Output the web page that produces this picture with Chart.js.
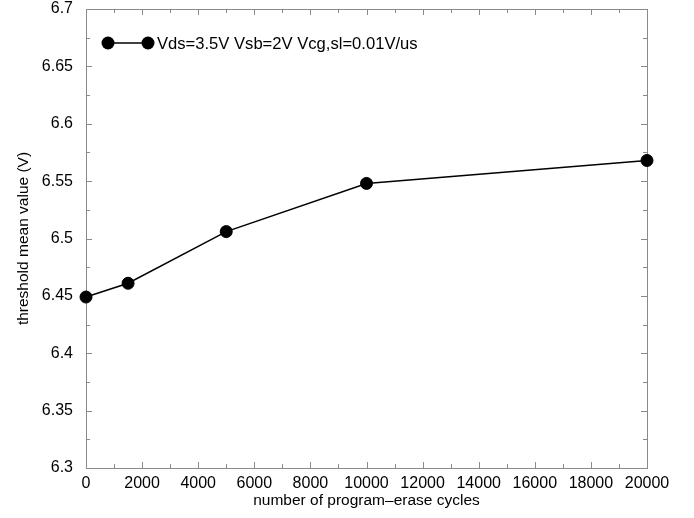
<!DOCTYPE html>
<html lang="en">
<head>
<meta charset="UTF-8">
<title>Threshold mean value vs program-erase cycles</title>
<script src="https://cdn.jsdelivr.net/npm/chart.js"></script>
<style>
  html, body { margin: 0; padding: 0; background: #ffffff; }
  #wrap { width: 694px; height: 518px; }
</style>
</head>
<body>
<div id="wrap"><canvas id="chart" width="694" height="518"></canvas></div>
<script>
// data
const cycles = [0, 1500, 5000, 10000, 20000];
const thresholdMean = [6.449, 6.461, 6.506, 6.548, 6.568];
const seriesLabel = 'Vds=3.5V Vsb=2V Vcg,sl=0.01V/us';

const xTicks = [0, 2000, 4000, 6000, 8000, 10000, 12000, 14000, 16000, 18000, 20000];
const xMinor = [1000, 3000, 5000, 7000, 9000, 11000, 13000, 15000, 17000, 19000];
const yTicks = [6.3, 6.35, 6.4, 6.45, 6.5, 6.55, 6.6, 6.65, 6.7];
const yMinor = [6.325, 6.375, 6.425, 6.475, 6.525, 6.575, 6.625, 6.675];

const FONT = '"Liberation Sans", Arial, Helvetica, sans-serif';

// box + inward tick marks on all four sides, plus the legend inside the plot
const frame = {
    id: 'frame',
    beforeDatasetsDraw(chart) {
        const {ctx, chartArea: a, scales: {x, y}} = chart;
        ctx.save();
        ctx.strokeStyle = '#8a8a8a';
        ctx.lineWidth = 1;
        ctx.strokeRect(a.left + 0.5, a.top + 0.5, a.right - a.left, a.bottom - a.top);
        ctx.beginPath();
        const xt = (v, len) => {
            const px = Math.round(x.getPixelForValue(v)) + 0.5;
            ctx.moveTo(px, a.bottom); ctx.lineTo(px, a.bottom - len);
            ctx.moveTo(px, a.top); ctx.lineTo(px, a.top + len);
        };
        const yt = (v, len) => {
            const py = Math.round(y.getPixelForValue(v)) + 0.5;
            ctx.moveTo(a.left, py); ctx.lineTo(a.left + len, py);
            ctx.moveTo(a.right, py); ctx.lineTo(a.right - len, py);
        };
        xTicks.forEach(v => xt(v, 6));
        xMinor.forEach(v => xt(v, 4));
        yTicks.forEach(v => yt(v, 6));
        yMinor.forEach(v => yt(v, 4));
        ctx.stroke();
        ctx.restore();
    },
    afterDraw(chart) {
        const {ctx} = chart;
        const ly = 43;
        ctx.save();
        ctx.strokeStyle = '#000';
        ctx.fillStyle = '#000';
        ctx.lineWidth = 1.5;
        ctx.beginPath();
        ctx.moveTo(108, ly); ctx.lineTo(148, ly);
        ctx.stroke();
        [108, 148].forEach(cx => {
            ctx.beginPath();
            ctx.arc(cx, ly, 6.5, 0, Math.PI * 2);
            ctx.fill();
        });
        ctx.font = '16.6px ' + FONT;
        ctx.textBaseline = 'middle';
        ctx.fillText(chart.data.datasets[0].label, 157, ly + 1);
        ctx.restore();
    }
};

new Chart(document.getElementById('chart'), {
    type: 'line',
    data: {
        datasets: [{
            label: seriesLabel,
            data: cycles.map((c, i) => ({x: c, y: thresholdMean[i]})),
            borderColor: '#000',
            borderWidth: 1.5,
            backgroundColor: '#000',
            pointBackgroundColor: '#000',
            pointBorderColor: '#000',
            pointRadius: 6,
            pointBorderWidth: 1,
            tension: 0,
            clip: false
        }]
    },
    options: {
        responsive: false,
        animation: false,
        devicePixelRatio: 1,
        layout: { padding: { left: 8, top: 9, right: 47, bottom: 0 } },
        plugins: { legend: { display: false }, tooltip: { enabled: false } },
        scales: {
            x: {
                type: 'linear',
                min: 0, max: 20000,
                afterBuildTicks: s => { s.ticks = xTicks.map(v => ({value: v})); },
                afterFit: s => { s.height = 50; s.paddingLeft = 0; s.paddingRight = 0; },
                grid: { display: false, drawTicks: false },
                border: { display: false },
                ticks: {
                    color: '#000',
                    padding: 6,
                    maxRotation: 0,
                    font: { family: FONT, size: 16 },
                    callback: v => String(v)
                },
                title: {
                    display: true,
                    text: 'number of program\u2013erase cycles',
                    color: '#000',
                    font: { family: FONT, size: 15.5 },
                    padding: { top: 0, bottom: 8 }
                }
            },
            y: {
                type: 'linear',
                min: 6.3, max: 6.7,
                afterBuildTicks: s => { s.ticks = yTicks.map(v => ({value: v})); },
                afterFit: s => { s.width = 78; s.paddingTop = 0; s.paddingBottom = 0; },
                grid: { display: false, drawTicks: false },
                border: { display: false },
                ticks: {
                    color: '#000',
                    padding: 13,
                    font: { family: FONT, size: 16 },
                    callback: v => String(Math.round(v * 1000) / 1000)
                },
                title: {
                    display: true,
                    text: 'threshold mean value (V)',
                    color: '#000',
                    font: { family: FONT, size: 15.5 },
                    padding: { top: 6, bottom: 0 }
                }
            }
        }
    },
    plugins: [frame]
});
</script>
</body>
</html>
